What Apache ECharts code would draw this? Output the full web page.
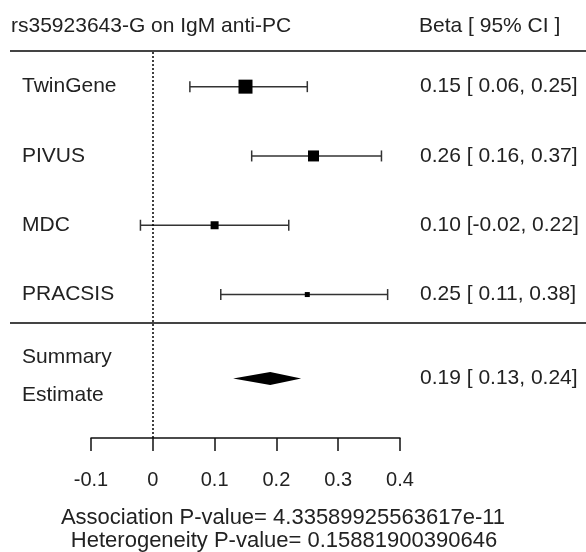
<!DOCTYPE html>
<html><head><meta charset="utf-8">
<script src="https://cdn.jsdelivr.net/npm/echarts@6/dist/echarts.min.js"></script>
<style>html,body{margin:0;padding:0;background:#fff}#c{width:586px;height:552px}</style>
</head><body><div id="c"></div>
<script>
// ---- data ----
const studies = ['TwinGene', 'PIVUS', 'MDC', 'PRACSIS'];
const beta = [0.15, 0.26, 0.10, 0.25];
const lower = [0.06, 0.16, -0.02, 0.11];
const upper = [0.25, 0.37, 0.22, 0.38];
const summaryLabel = ['Summary', 'Estimate'];
const summaryBeta = [0.19];
const summaryLower = [0.13];
const summaryUpper = [0.24];
const xTickMin = -0.1, xTickMax = 0.4, xTickStep = 0.1;
const titleText = 'rs35923643-G on IgM anti-PC';
const ciHeader = 'Beta [ 95% CI ]';
const footer = ['Association P-value= 4.33589925563617e-11', 'Heterogeneity P-value= 0.15881900390646'];

// ---- style / layout ----
const boxSize = [14, 11, 8, 5];
const FONT = "'Liberation Sans', Arial, sans-serif";
const TXT = '#222';
const rowPos = [1, 2, 3, 4];
const summaryPos = 5.21;

function ciText(b, l, h) {
  return b.toFixed(2) + ' [' + (l < 0 ? '' : ' ') + l.toFixed(2) + ', ' + h.toFixed(2) + ']';
}

const chart = echarts.init(document.getElementById('c'), null, {renderer: 'canvas'});

const studyData = studies.map((s, i) => [rowPos[i], beta[i], lower[i], upper[i], i]);
const sumData = summaryBeta.map((b, i) => [summaryPos, b, summaryLower[i], summaryUpper[i], i]);

const lineStyle = {stroke: '#333', lineWidth: 1.5};

chart.setOption({
  animation: false,
  backgroundColor: '#fff',
  grid: {left: 91, right: 186, top: 52, bottom: 114, containLabel: false},
  xAxis: {
    type: 'value', min: xTickMin, max: xTickMax, interval: xTickStep,
    splitLine: {show: false},
    axisLine: {show: true, lineStyle: {color: '#111', width: 1.5}},
    axisTick: {show: true, length: 13, lineStyle: {color: '#111', width: 1.5}},
    axisLabel: {fontSize: 20, color: TXT, fontFamily: FONT, margin: 32}
  },
  yAxis: {
    type: 'value', min: 0.5, max: 6.07, inverse: true, show: false
  },
  series: [
    {
      type: 'line', data: [], silent: true,
      markLine: {
        silent: true, symbol: 'none', label: {show: false},
        lineStyle: {type: [2, 2], color: '#000', width: 1.5},
        data: [{xAxis: 0}]
      }
    },
    {
      type: 'custom', data: studyData, encode: {x: [1, 2, 3], y: 0},
      renderItem: function (params, api) {
        const y = api.value(0), b = api.value(1), lo = api.value(2), hi = api.value(3), idx = api.value(4);
        const pL = api.coord([lo, y]), pH = api.coord([hi, y]), pB = api.coord([b, y]);
        const s = boxSize[idx], cap = 5.5;
        return {type: 'group', children: [
          {type: 'line', shape: {x1: pL[0], y1: pL[1], x2: pH[0], y2: pH[1]}, style: lineStyle},
          {type: 'line', shape: {x1: pL[0], y1: pL[1] - cap, x2: pL[0], y2: pL[1] + cap}, style: lineStyle},
          {type: 'line', shape: {x1: pH[0], y1: pH[1] - cap, x2: pH[0], y2: pH[1] + cap}, style: lineStyle},
          {type: 'rect', shape: {x: pB[0] - s / 2, y: pB[1] - s / 2, width: s, height: s}, style: {fill: '#000'}},
          {type: 'text', x: 22, y: pB[1], style: {text: studies[idx], fontSize: 21, fontFamily: FONT, fill: TXT, align: 'left', verticalAlign: 'middle'}},
          {type: 'text', x: 420, y: pB[1], style: {text: ciText(b, lo, hi), fontSize: 21, fontFamily: FONT, fill: TXT, align: 'left', verticalAlign: 'middle'}}
        ]};
      }
    },
    {
      type: 'custom', data: sumData, encode: {x: [1, 2, 3], y: 0},
      renderItem: function (params, api) {
        const y = api.value(0), b = api.value(1), lo = api.value(2), hi = api.value(3);
        const pL = api.coord([lo, y]), pH = api.coord([hi, y]), pB = api.coord([b, y]);
        const h = 6.5;
        return {type: 'group', children: [
          {type: 'polygon', shape: {points: [[pL[0], pL[1]], [pB[0], pB[1] - h], [pH[0], pH[1]], [pB[0], pB[1] + h]]}, style: {fill: '#000'}},
          {type: 'text', x: 22, y: pB[1] - 2, style: {text: summaryLabel.join('\n'), fontSize: 21, lineHeight: 38, fontFamily: FONT, fill: TXT, align: 'left', verticalAlign: 'middle'}},
          {type: 'text', x: 420, y: pB[1], style: {text: ciText(b, lo, hi), fontSize: 21, fontFamily: FONT, fill: TXT, align: 'left', verticalAlign: 'middle'}}
        ]};
      }
    }
  ],
  graphic: [
    {type: 'text', left: 11, top: 16, style: {text: titleText, fontSize: 21, fontFamily: FONT, fill: TXT}},
    {type: 'text', left: 419, top: 16, style: {text: ciHeader, fontSize: 21, fontFamily: FONT, fill: TXT}},
    {type: 'line', shape: {x1: 10, y1: 51, x2: 586, y2: 51}, style: {stroke: '#444', lineWidth: 2}},
    {type: 'line', shape: {x1: 10, y1: 323, x2: 586, y2: 323}, style: {stroke: '#444', lineWidth: 2}},
    {type: 'text', x: 283, y: 518, style: {text: footer[0], fontSize: 22, fontFamily: FONT, fill: TXT, align: 'center', verticalAlign: 'middle'}},
    {type: 'text', x: 284, y: 541, style: {text: footer[1], fontSize: 22, fontFamily: FONT, fill: TXT, align: 'center', verticalAlign: 'middle'}}
  ]
});
</script>
</body></html>
